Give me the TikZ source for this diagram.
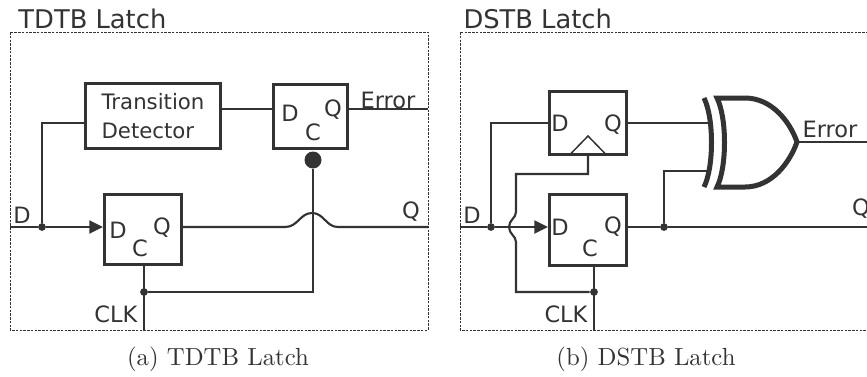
\documentclass[tikz,border=0pt]{standalone}
\usepackage{fontspec}
\setsansfont{DejaVu Sans}
\usetikzlibrary{arrows.meta,calc}
\definecolor{ink}{HTML}{333333}

\begin{document}
\begin{tikzpicture}[x=0.4pt, y=-0.4pt, every node/.style={inner sep=0, text=ink},
    wire/.style={draw=ink, line width=0.85pt},
    ffbox/.style={draw=ink, line width=1.3pt},
    frame/.style={draw=ink, line width=0.4pt, dash pattern=on 1pt off 0.5pt},
    junc/.style={circle, fill=ink, minimum size=3.1pt},
    lbl/.style={font=\sffamily\fontsize{9}{10}\selectfont},
    title/.style={anchor=base west, font=\sffamily\fontsize{10.3}{12}\selectfont},
    captxt/.style={font=\rmfamily\fontsize{9.9}{12}\selectfont},
    arr/.style={-{Triangle[length=5.4pt,width=5.2pt]}}]
  \useasboundingbox (0,0) rectangle (867,376);

  % (a) TDTB latch
  \node[title] (ttlA) at (18,28) {TDTB Latch};
  \draw[frame] (10,32) rectangle (428,330);
  \node[ffbox, minimum width=54pt, minimum height=26pt, align=left,
    font=\sffamily\fontsize{8.5}{11.3}\selectfont] (td) at (153,116) {Transition\\Detector};
  \node[ffbox, minimum width=29.6pt, minimum height=25.6pt] (ffb) at (310.5,116.5) {};
  \node[lbl] (ffbD) at (290,113) {D};
  \node[lbl] (ffbC) at (313,132) {C};
  \node[lbl] (ffbQ) at (333,110) {Q};
  \node[ffbox, minimum width=30.8pt, minimum height=28pt] (ffa) at (143,229.5) {};
  \node[lbl] (ffaD) at (118,230) {D};
  \node[lbl] (ffaC) at (140,248) {C};
  \node[lbl] (ffaQ) at (162,228) {Q};

  \coordinate (dinA) at (10,227);
  \node[junc] (jdA) at (42,227) {};
  \draw[wire] (dinA) -- (jdA);
  \draw[wire, arr] (jdA) -- (ffa.west |- jdA);
  \draw[wire] (jdA) |- (td.west |- 0,123);
  \draw[wire] (td.east |- 0,109) -- (ffb.west |- 0,109);
  \coordinate (errA) at (428,109);
  \draw[wire] (ffb.east |- errA) -- (errA);
  \node[junc, minimum size=6.8pt] (clkT) at (313,160) {};
  \node[junc] (jcA) at (144,292) {};
  \draw[wire] (clkT) |- (jcA);
  \coordinate (clkA) at (144,330);
  \draw[wire] (ffa.south -| clkA) -- (clkA);
  \coordinate (qA) at (428,227);
  \draw[wire] (ffa.east |- qA) -- (285,227) .. controls (298,227) and (300,213) .. (312,213)
    .. controls (324,213) and (326,227) .. (338,227) -- (qA);

  \node[lbl] (lDA) at (22,215) {D};
  \node[lbl] (lErrA) at (388,100) {Error};
  \node[lbl] (lQA) at (411,212) {Q};
  \node[lbl] (lClkA) at (116,314) {CLK};

  % (b) DSTB latch
  \node[title] (ttlB) at (463,28) {DSTB Latch};
  \draw[frame] (460,32) rectangle (880,330);
  \node[ffbox, minimum width=30.8pt, minimum height=25.2pt] (ffc) at (588,123) {};
  \node[lbl] (ffcD) at (560,123) {D};
  \node[lbl] (ffcQ) at (613,125) {Q};
  \draw[ink, line width=0.6pt] (570,154.5) -- (588,136) -- (606,154.5);
  \node[ffbox, minimum width=30.8pt, minimum height=28.4pt] (ffd) at (588,230) {};
  \node[lbl] (ffdD) at (560,227) {D};
  \node[lbl] (ffdC) at (590,248) {C};
  \node[lbl] (ffdQ) at (613,227) {Q};

  % xor gate
  \draw[ink, line width=2pt] (704,98) .. controls (714,118) and (714,167) .. (704,187);
  \draw[ink, line width=2pt] (717,98) -- (745,98) .. controls (772,98) and (790,122) .. (797,142)
    .. controls (790,162) and (772,187) .. (745,187) -- (717,187)
    .. controls (727,167) and (727,118) .. cycle;
  \coordinate (xa) at (710,123);
  \coordinate (xb) at (710,171);
  \coordinate (xo) at (797,142);

  \coordinate (dinB) at (460,227);
  \node[junc] (jdB) at (491,227) {};
  \draw[wire] (dinB) -- (jdB);
  \draw[wire, arr] (jdB) -- (ffd.west |- jdB);
  \draw[wire] (jdB) |- (ffc.west);
  \node[junc] (jcB) at (594,292) {};
  \draw[wire] (ffc.south) -- (588,174) -| (516,212) .. controls (516,218) and (509,220) .. (509,227)
    .. controls (509,234) and (516,236) .. (516,242) |- (jcB);
  \coordinate (clkB) at (594,330);
  \draw[wire] (ffd.south -| clkB) -- (clkB);
  \draw[wire] (ffc.east) -- (xa);
  \node[junc] (jqB) at (664,227) {};
  \coordinate (qB) at (867,227);
  \draw[wire] (ffd.east |- jqB) -- (jqB) -- (qB);
  \draw[wire] (jqB) |- (xb);
  \coordinate (errB) at (867,142);
  \draw[wire] (xo) -- (errB);

  \node[lbl] (lDB) at (472,215) {D};
  \node[lbl] (lErrB) at (830,129) {Error};
  \node[lbl] (lQB) at (861,209) {Q};
  \node[lbl] (lClkB) at (566,314) {CLK};

  % captions
  \node[captxt] (capA) at (218,359) {(a) TDTB Latch};
  \node[captxt] (capB) at (646,359) {(b) DSTB Latch};
\end{tikzpicture}
\end{document}
